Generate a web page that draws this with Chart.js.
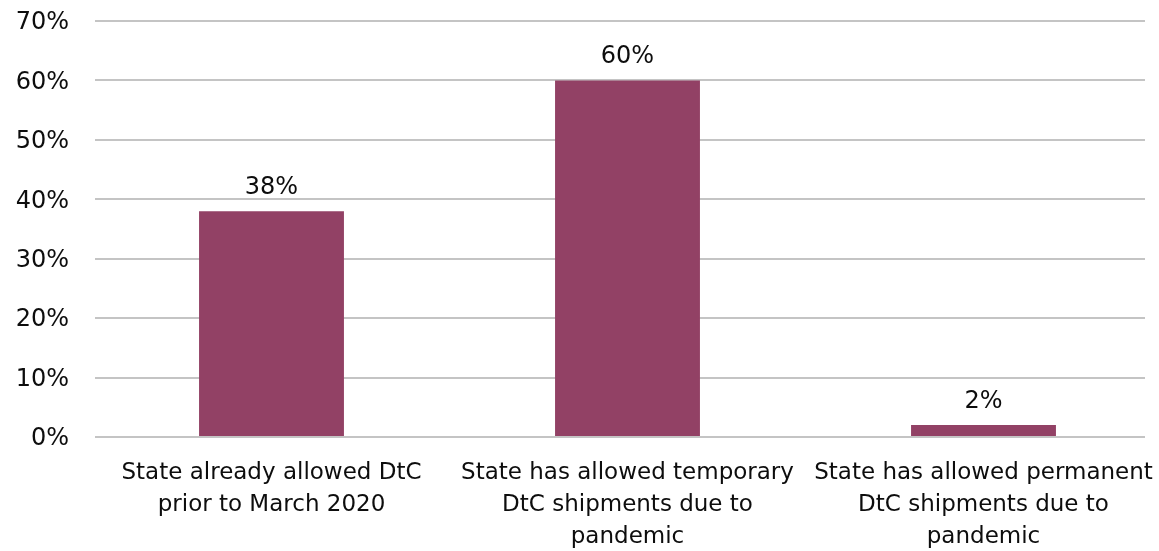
<!DOCTYPE html>
<html>
<head>
<meta charset="utf-8">
<script src="https://cdn.jsdelivr.net/npm/chart.js@4"></script>
<style>
  html, body { margin: 0; padding: 0; background: #fff; }
  #wrap { width: 1159px; height: 551px; }
</style>
</head>
<body>
<div id="wrap"><canvas id="chart" width="1159" height="551"></canvas></div>
<script>
const categories = [
    ["State already allowed DtC", "prior to March 2020"],
    ["State has allowed temporary", "DtC shipments due to", "pandemic"],
    ["State has allowed permanent", "DtC shipments due to", "pandemic"]
];
const shares = [38, 60, 2];
const yTicks = [0, 10, 20, 30, 40, 50, 60, 70];

const fontFamily = "Tahoma, 'DejaVu Sans', Verdana, sans-serif";

// draws the % label above each bar
const barLabels = {
    id: 'barLabels',
    afterDatasetsDraw(chart) {
        const ctx = chart.ctx;
        const meta = chart.getDatasetMeta(0);
        ctx.save();
        ctx.font = "24px " + fontFamily;
        ctx.fillStyle = "#0d0d0d";
        ctx.textAlign = "center";
        ctx.textBaseline = "alphabetic";
        meta.data.forEach((bar, i) => {
            ctx.fillText(shares[i] + "%", bar.x, bar.y - 17);
        });
        ctx.restore();
    }
};

// pin the plot area like the excel original:
// gridlines 21..437, categories spread a bit wider than the gridlines
const pinArea = {
    id: 'pinArea',
    afterLayout(chart) {
        const y = chart.scales.y;
        chart.chartArea.top = 21;
        chart.chartArea.height = chart.chartArea.bottom - 21;
        y.top = 21;
        y.height = y.bottom - y.top;
        y.configure();

        const x = chart.scales.x;
        x.left = 93.5;
        x.right = 1161.5;
        x.width = x.right - x.left;
        x.configure();
    }
};

new Chart(document.getElementById("chart"), {
    type: 'bar',
    data: {
        labels: categories,
        datasets: [{
            data: shares,
            backgroundColor: "#924165",
            categoryPercentage: 1,
            barPercentage: 0.407
        }]
    },
    options: {
        responsive: false,
        animation: false,
        layout: { padding: { top: 5, right: 14, left: 0, bottom: 0 } },
        plugins: {
            legend: { display: false },
            tooltip: { enabled: false }
        },
        scales: {
            x: {
                grid: { display: false },
                border: { display: false },
                ticks: {
                    color: "#0d0d0d",
                    font: { family: fontFamily, size: 23, lineHeight: 1.391 },
                    padding: 12,
                    maxRotation: 0,
                    autoSkip: false
                },
                afterFit(scale) { scale.height = 114; }
            },
            y: {
                min: 0,
                max: 70,
                afterBuildTicks(scale) {
                    scale.ticks = yTicks.map(v => ({ value: v }));
                },
                grid: { color: "#c4c4c4", lineWidth: 2, drawTicks: false },
                border: { display: false },
                ticks: {
                    color: "#0d0d0d",
                    font: { family: fontFamily, size: 24 },
                    padding: 26,
                    labelOffset: 2,
                    callback: v => v + "%"
                },
                afterFit(scale) { scale.width = 95; }
            }
        }
    },
    plugins: [barLabels, pinArea]
});
</script>
</body>
</html>
